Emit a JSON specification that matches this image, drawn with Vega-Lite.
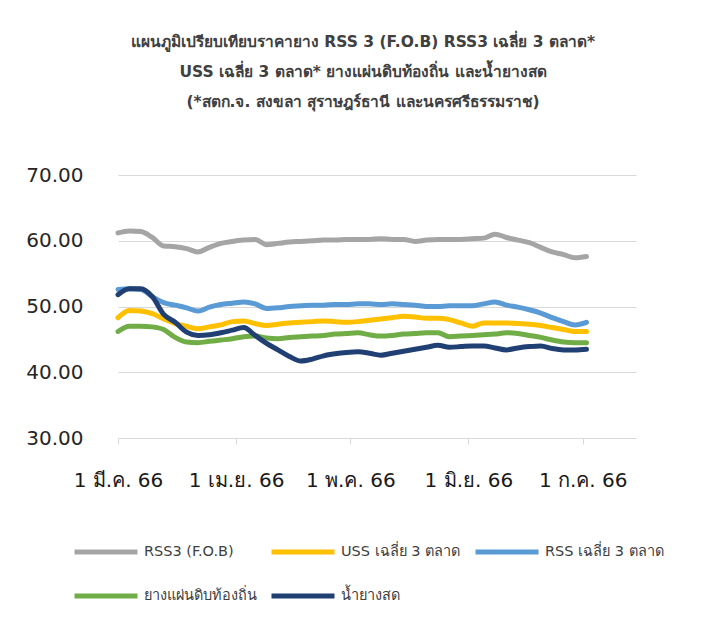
{
  "$schema": "https://vega.github.io/schema/vega-lite/v6.json",
  "autosize": {"type": "none"},
  "width": 518,
  "height": 263,
  "padding": {"left": 118, "top": 175, "right": 74, "bottom": 198},
  "background": "white",
  "title": {
    "text": ["แผนภูมิเปรียบเทียบราคายาง RSS 3 (F.O.B) RSS3 เฉลี่ย 3 ตลาด*", "USS เฉลี่ย 3 ตลาด* ยางแผ่นดิบท้องถิ่น และน้ำยางสด", "(*สตก.จ. สงขลา สุราษฎร์ธานี และนครศรีธรรมราช)"],
    "anchor": "middle",
    "frame": "group",
    "dx": -14,
    "offset": 55,
    "fontSize": 15.5,
    "fontWeight": "bold",
    "font": "DejaVu Sans",
    "color": "#404040",
    "lineHeight": 30
  },
  "config": {
    "view": {"stroke": null},
    "font": "DejaVu Sans"
  },
  "data": {
    "values": [
      {"d":"2023-03-01","s":"RSS3 (F.O.B)","v":61.2},{"d":"2023-03-04","s":"RSS3 (F.O.B)","v":61.5},{"d":"2023-03-07","s":"RSS3 (F.O.B)","v":61.4},{"d":"2023-03-10","s":"RSS3 (F.O.B)","v":60.5},{"d":"2023-03-13","s":"RSS3 (F.O.B)","v":59.2},{"d":"2023-03-16","s":"RSS3 (F.O.B)","v":59.1},{"d":"2023-03-19","s":"RSS3 (F.O.B)","v":58.8},{"d":"2023-03-22","s":"RSS3 (F.O.B)","v":58.3},{"d":"2023-03-25","s":"RSS3 (F.O.B)","v":59.0},{"d":"2023-03-28","s":"RSS3 (F.O.B)","v":59.6},{"d":"2023-03-31","s":"RSS3 (F.O.B)","v":59.9},{"d":"2023-04-03","s":"RSS3 (F.O.B)","v":60.1},{"d":"2023-04-06","s":"RSS3 (F.O.B)","v":60.2},{"d":"2023-04-09","s":"RSS3 (F.O.B)","v":59.4},{"d":"2023-04-12","s":"RSS3 (F.O.B)","v":59.6},{"d":"2023-04-15","s":"RSS3 (F.O.B)","v":59.8},{"d":"2023-04-18","s":"RSS3 (F.O.B)","v":59.9},{"d":"2023-04-21","s":"RSS3 (F.O.B)","v":60.0},{"d":"2023-04-24","s":"RSS3 (F.O.B)","v":60.1},{"d":"2023-04-27","s":"RSS3 (F.O.B)","v":60.1},{"d":"2023-04-30","s":"RSS3 (F.O.B)","v":60.2},{"d":"2023-05-03","s":"RSS3 (F.O.B)","v":60.2},{"d":"2023-05-06","s":"RSS3 (F.O.B)","v":60.2},{"d":"2023-05-09","s":"RSS3 (F.O.B)","v":60.3},{"d":"2023-05-12","s":"RSS3 (F.O.B)","v":60.2},{"d":"2023-05-15","s":"RSS3 (F.O.B)","v":60.2},{"d":"2023-05-18","s":"RSS3 (F.O.B)","v":59.9},{"d":"2023-05-21","s":"RSS3 (F.O.B)","v":60.1},{"d":"2023-05-24","s":"RSS3 (F.O.B)","v":60.2},{"d":"2023-05-27","s":"RSS3 (F.O.B)","v":60.2},{"d":"2023-05-30","s":"RSS3 (F.O.B)","v":60.2},{"d":"2023-06-02","s":"RSS3 (F.O.B)","v":60.3},{"d":"2023-06-05","s":"RSS3 (F.O.B)","v":60.4},{"d":"2023-06-08","s":"RSS3 (F.O.B)","v":61.0},{"d":"2023-06-11","s":"RSS3 (F.O.B)","v":60.5},{"d":"2023-06-14","s":"RSS3 (F.O.B)","v":60.1},{"d":"2023-06-17","s":"RSS3 (F.O.B)","v":59.7},{"d":"2023-06-20","s":"RSS3 (F.O.B)","v":59.0},{"d":"2023-06-23","s":"RSS3 (F.O.B)","v":58.3},{"d":"2023-06-26","s":"RSS3 (F.O.B)","v":57.9},{"d":"2023-06-29","s":"RSS3 (F.O.B)","v":57.4},{"d":"2023-07-02","s":"RSS3 (F.O.B)","v":57.6},
      {"d":"2023-03-01","s":"USS เฉลี่ย 3 ตลาด","v":48.3},{"d":"2023-03-04","s":"USS เฉลี่ย 3 ตลาด","v":49.4},{"d":"2023-03-07","s":"USS เฉลี่ย 3 ตลาด","v":49.3},{"d":"2023-03-10","s":"USS เฉลี่ย 3 ตลาด","v":48.9},{"d":"2023-03-13","s":"USS เฉลี่ย 3 ตลาด","v":48.1},{"d":"2023-03-16","s":"USS เฉลี่ย 3 ตลาด","v":47.4},{"d":"2023-03-19","s":"USS เฉลี่ย 3 ตลาด","v":47.0},{"d":"2023-03-22","s":"USS เฉลี่ย 3 ตลาด","v":46.6},{"d":"2023-03-25","s":"USS เฉลี่ย 3 ตลาด","v":46.9},{"d":"2023-03-28","s":"USS เฉลี่ย 3 ตลาด","v":47.2},{"d":"2023-03-31","s":"USS เฉลี่ย 3 ตลาด","v":47.7},{"d":"2023-04-03","s":"USS เฉลี่ย 3 ตลาด","v":47.8},{"d":"2023-04-06","s":"USS เฉลี่ย 3 ตลาด","v":47.4},{"d":"2023-04-09","s":"USS เฉลี่ย 3 ตลาด","v":47.1},{"d":"2023-04-12","s":"USS เฉลี่ย 3 ตลาด","v":47.3},{"d":"2023-04-15","s":"USS เฉลี่ย 3 ตลาด","v":47.5},{"d":"2023-04-18","s":"USS เฉลี่ย 3 ตลาด","v":47.6},{"d":"2023-04-21","s":"USS เฉลี่ย 3 ตลาด","v":47.7},{"d":"2023-04-24","s":"USS เฉลี่ย 3 ตลาด","v":47.8},{"d":"2023-04-27","s":"USS เฉลี่ย 3 ตลาด","v":47.7},{"d":"2023-04-30","s":"USS เฉลี่ย 3 ตลาด","v":47.6},{"d":"2023-05-03","s":"USS เฉลี่ย 3 ตลาด","v":47.7},{"d":"2023-05-06","s":"USS เฉลี่ย 3 ตลาด","v":47.9},{"d":"2023-05-09","s":"USS เฉลี่ย 3 ตลาด","v":48.1},{"d":"2023-05-12","s":"USS เฉลี่ย 3 ตลาด","v":48.3},{"d":"2023-05-15","s":"USS เฉลี่ย 3 ตลาด","v":48.5},{"d":"2023-05-18","s":"USS เฉลี่ย 3 ตลาด","v":48.4},{"d":"2023-05-21","s":"USS เฉลี่ย 3 ตลาด","v":48.2},{"d":"2023-05-24","s":"USS เฉลี่ย 3 ตลาด","v":48.2},{"d":"2023-05-27","s":"USS เฉลี่ย 3 ตลาด","v":48.0},{"d":"2023-05-30","s":"USS เฉลี่ย 3 ตลาด","v":47.5},{"d":"2023-06-02","s":"USS เฉลี่ย 3 ตลาด","v":47.0},{"d":"2023-06-05","s":"USS เฉลี่ย 3 ตลาด","v":47.5},{"d":"2023-06-08","s":"USS เฉลี่ย 3 ตลาด","v":47.5},{"d":"2023-06-11","s":"USS เฉลี่ย 3 ตลาด","v":47.5},{"d":"2023-06-14","s":"USS เฉลี่ย 3 ตลาด","v":47.4},{"d":"2023-06-17","s":"USS เฉลี่ย 3 ตลาด","v":47.3},{"d":"2023-06-20","s":"USS เฉลี่ย 3 ตลาด","v":47.1},{"d":"2023-06-23","s":"USS เฉลี่ย 3 ตลาด","v":46.8},{"d":"2023-06-26","s":"USS เฉลี่ย 3 ตลาด","v":46.5},{"d":"2023-06-29","s":"USS เฉลี่ย 3 ตลาด","v":46.2},{"d":"2023-07-02","s":"USS เฉลี่ย 3 ตลาด","v":46.2},
      {"d":"2023-03-01","s":"RSS เฉลี่ย 3 ตลาด","v":52.6},{"d":"2023-03-04","s":"RSS เฉลี่ย 3 ตลาด","v":52.7},{"d":"2023-03-07","s":"RSS เฉลี่ย 3 ตลาด","v":52.6},{"d":"2023-03-10","s":"RSS เฉลี่ย 3 ตลาด","v":51.5},{"d":"2023-03-13","s":"RSS เฉลี่ย 3 ตลาด","v":50.6},{"d":"2023-03-16","s":"RSS เฉลี่ย 3 ตลาด","v":50.2},{"d":"2023-03-19","s":"RSS เฉลี่ย 3 ตลาด","v":49.8},{"d":"2023-03-22","s":"RSS เฉลี่ย 3 ตลาด","v":49.3},{"d":"2023-03-25","s":"RSS เฉลี่ย 3 ตลาด","v":49.9},{"d":"2023-03-28","s":"RSS เฉลี่ย 3 ตลาด","v":50.3},{"d":"2023-03-31","s":"RSS เฉลี่ย 3 ตลาด","v":50.5},{"d":"2023-04-03","s":"RSS เฉลี่ย 3 ตลาด","v":50.7},{"d":"2023-04-06","s":"RSS เฉลี่ย 3 ตลาด","v":50.4},{"d":"2023-04-09","s":"RSS เฉลี่ย 3 ตลาด","v":49.7},{"d":"2023-04-12","s":"RSS เฉลี่ย 3 ตลาด","v":49.8},{"d":"2023-04-15","s":"RSS เฉลี่ย 3 ตลาด","v":50.0},{"d":"2023-04-18","s":"RSS เฉลี่ย 3 ตลาด","v":50.1},{"d":"2023-04-21","s":"RSS เฉลี่ย 3 ตลาด","v":50.2},{"d":"2023-04-24","s":"RSS เฉลี่ย 3 ตลาด","v":50.2},{"d":"2023-04-27","s":"RSS เฉลี่ย 3 ตลาด","v":50.3},{"d":"2023-04-30","s":"RSS เฉลี่ย 3 ตลาด","v":50.3},{"d":"2023-05-03","s":"RSS เฉลี่ย 3 ตลาด","v":50.4},{"d":"2023-05-06","s":"RSS เฉลี่ย 3 ตลาด","v":50.4},{"d":"2023-05-09","s":"RSS เฉลี่ย 3 ตลาด","v":50.3},{"d":"2023-05-12","s":"RSS เฉลี่ย 3 ตลาด","v":50.4},{"d":"2023-05-15","s":"RSS เฉลี่ย 3 ตลาด","v":50.3},{"d":"2023-05-18","s":"RSS เฉลี่ย 3 ตลาด","v":50.2},{"d":"2023-05-21","s":"RSS เฉลี่ย 3 ตลาด","v":50.0},{"d":"2023-05-24","s":"RSS เฉลี่ย 3 ตลาด","v":50.0},{"d":"2023-05-27","s":"RSS เฉลี่ย 3 ตลาด","v":50.1},{"d":"2023-05-30","s":"RSS เฉลี่ย 3 ตลาด","v":50.1},{"d":"2023-06-02","s":"RSS เฉลี่ย 3 ตลาด","v":50.1},{"d":"2023-06-05","s":"RSS เฉลี่ย 3 ตลาด","v":50.4},{"d":"2023-06-08","s":"RSS เฉลี่ย 3 ตลาด","v":50.7},{"d":"2023-06-11","s":"RSS เฉลี่ย 3 ตลาด","v":50.2},{"d":"2023-06-14","s":"RSS เฉลี่ย 3 ตลาด","v":49.9},{"d":"2023-06-17","s":"RSS เฉลี่ย 3 ตลาด","v":49.5},{"d":"2023-06-20","s":"RSS เฉลี่ย 3 ตลาด","v":49.0},{"d":"2023-06-23","s":"RSS เฉลี่ย 3 ตลาด","v":48.3},{"d":"2023-06-26","s":"RSS เฉลี่ย 3 ตลาด","v":47.7},{"d":"2023-06-29","s":"RSS เฉลี่ย 3 ตลาด","v":47.2},{"d":"2023-07-02","s":"RSS เฉลี่ย 3 ตลาด","v":47.6},
      {"d":"2023-03-01","s":"ยางแผ่นดิบท้องถิ่น","v":46.2},{"d":"2023-03-04","s":"ยางแผ่นดิบท้องถิ่น","v":47.0},{"d":"2023-03-07","s":"ยางแผ่นดิบท้องถิ่น","v":47.0},{"d":"2023-03-10","s":"ยางแผ่นดิบท้องถิ่น","v":46.9},{"d":"2023-03-13","s":"ยางแผ่นดิบท้องถิ่น","v":46.5},{"d":"2023-03-16","s":"ยางแผ่นดิบท้องถิ่น","v":45.3},{"d":"2023-03-19","s":"ยางแผ่นดิบท้องถิ่น","v":44.6},{"d":"2023-03-22","s":"ยางแผ่นดิบท้องถิ่น","v":44.5},{"d":"2023-03-25","s":"ยางแผ่นดิบท้องถิ่น","v":44.7},{"d":"2023-03-28","s":"ยางแผ่นดิบท้องถิ่น","v":44.9},{"d":"2023-03-31","s":"ยางแผ่นดิบท้องถิ่น","v":45.1},{"d":"2023-04-03","s":"ยางแผ่นดิบท้องถิ่น","v":45.4},{"d":"2023-04-06","s":"ยางแผ่นดิบท้องถิ่น","v":45.5},{"d":"2023-04-09","s":"ยางแผ่นดิบท้องถิ่น","v":45.2},{"d":"2023-04-12","s":"ยางแผ่นดิบท้องถิ่น","v":45.1},{"d":"2023-04-15","s":"ยางแผ่นดิบท้องถิ่น","v":45.3},{"d":"2023-04-18","s":"ยางแผ่นดิบท้องถิ่น","v":45.4},{"d":"2023-04-21","s":"ยางแผ่นดิบท้องถิ่น","v":45.5},{"d":"2023-04-24","s":"ยางแผ่นดิบท้องถิ่น","v":45.6},{"d":"2023-04-27","s":"ยางแผ่นดิบท้องถิ่น","v":45.8},{"d":"2023-04-30","s":"ยางแผ่นดิบท้องถิ่น","v":45.9},{"d":"2023-05-03","s":"ยางแผ่นดิบท้องถิ่น","v":46.0},{"d":"2023-05-06","s":"ยางแผ่นดิบท้องถิ่น","v":45.7},{"d":"2023-05-09","s":"ยางแผ่นดิบท้องถิ่น","v":45.5},{"d":"2023-05-12","s":"ยางแผ่นดิบท้องถิ่น","v":45.6},{"d":"2023-05-15","s":"ยางแผ่นดิบท้องถิ่น","v":45.8},{"d":"2023-05-18","s":"ยางแผ่นดิบท้องถิ่น","v":45.9},{"d":"2023-05-21","s":"ยางแผ่นดิบท้องถิ่น","v":46.0},{"d":"2023-05-24","s":"ยางแผ่นดิบท้องถิ่น","v":46.0},{"d":"2023-05-27","s":"ยางแผ่นดิบท้องถิ่น","v":45.4},{"d":"2023-05-30","s":"ยางแผ่นดิบท้องถิ่น","v":45.5},{"d":"2023-06-02","s":"ยางแผ่นดิบท้องถิ่น","v":45.6},{"d":"2023-06-05","s":"ยางแผ่นดิบท้องถิ่น","v":45.7},{"d":"2023-06-08","s":"ยางแผ่นดิบท้องถิ่น","v":45.8},{"d":"2023-06-11","s":"ยางแผ่นดิบท้องถิ่น","v":46.0},{"d":"2023-06-14","s":"ยางแผ่นดิบท้องถิ่น","v":45.9},{"d":"2023-06-17","s":"ยางแผ่นดิบท้องถิ่น","v":45.6},{"d":"2023-06-20","s":"ยางแผ่นดิบท้องถิ่น","v":45.3},{"d":"2023-06-23","s":"ยางแผ่นดิบท้องถิ่น","v":44.9},{"d":"2023-06-26","s":"ยางแผ่นดิบท้องถิ่น","v":44.6},{"d":"2023-06-29","s":"ยางแผ่นดิบท้องถิ่น","v":44.5},{"d":"2023-07-02","s":"ยางแผ่นดิบท้องถิ่น","v":44.5},
      {"d":"2023-03-01","s":"น้ำยางสด","v":51.8},{"d":"2023-03-04","s":"น้ำยางสด","v":52.7},{"d":"2023-03-07","s":"น้ำยางสด","v":52.7},{"d":"2023-03-10","s":"น้ำยางสด","v":51.5},{"d":"2023-03-13","s":"น้ำยางสด","v":48.8},{"d":"2023-03-16","s":"น้ำยางสด","v":47.6},{"d":"2023-03-19","s":"น้ำยางสด","v":46.1},{"d":"2023-03-22","s":"น้ำยางสด","v":45.6},{"d":"2023-03-25","s":"น้ำยางสด","v":45.7},{"d":"2023-03-28","s":"น้ำยางสด","v":46.0},{"d":"2023-03-31","s":"น้ำยางสด","v":46.4},{"d":"2023-04-03","s":"น้ำยางสด","v":46.8},{"d":"2023-04-06","s":"น้ำยางสด","v":45.6},{"d":"2023-04-09","s":"น้ำยางสด","v":44.4},{"d":"2023-04-12","s":"น้ำยางสด","v":43.4},{"d":"2023-04-15","s":"น้ำยางสด","v":42.4},{"d":"2023-04-18","s":"น้ำยางสด","v":41.7},{"d":"2023-04-21","s":"น้ำยางสด","v":42.0},{"d":"2023-04-24","s":"น้ำยางสด","v":42.5},{"d":"2023-04-27","s":"น้ำยางสด","v":42.8},{"d":"2023-04-30","s":"น้ำยางสด","v":43.0},{"d":"2023-05-03","s":"น้ำยางสด","v":43.1},{"d":"2023-05-06","s":"น้ำยางสด","v":42.9},{"d":"2023-05-09","s":"น้ำยางสด","v":42.6},{"d":"2023-05-12","s":"น้ำยางสด","v":42.9},{"d":"2023-05-15","s":"น้ำยางสด","v":43.2},{"d":"2023-05-18","s":"น้ำยางสด","v":43.5},{"d":"2023-05-21","s":"น้ำยางสด","v":43.8},{"d":"2023-05-24","s":"น้ำยางสด","v":44.1},{"d":"2023-05-27","s":"น้ำยางสด","v":43.8},{"d":"2023-05-30","s":"น้ำยางสด","v":43.9},{"d":"2023-06-02","s":"น้ำยางสด","v":44.0},{"d":"2023-06-05","s":"น้ำยางสด","v":44.0},{"d":"2023-06-08","s":"น้ำยางสด","v":43.7},{"d":"2023-06-11","s":"น้ำยางสด","v":43.4},{"d":"2023-06-14","s":"น้ำยางสด","v":43.7},{"d":"2023-06-17","s":"น้ำยางสด","v":43.9},{"d":"2023-06-20","s":"น้ำยางสด","v":44.0},{"d":"2023-06-23","s":"น้ำยางสด","v":43.6},{"d":"2023-06-26","s":"น้ำยางสด","v":43.4},{"d":"2023-06-29","s":"น้ำยางสด","v":43.4},{"d":"2023-07-02","s":"น้ำยางสด","v":43.5}
    ]
  },
  "mark": {"type": "line", "strokeWidth": 5, "strokeCap": "round", "strokeJoin": "round", "interpolate": "monotone"},
  "encoding": {
    "x": {
      "field": "d", "type": "temporal",
      "scale": {"domain": ["2023-03-01T00:00:00", "2023-07-15T00:00:00"]},
      "axis": {
        "title": null,
        "values": ["2023-03-01T00:00:00", "2023-04-01T00:00:00", "2023-05-01T00:00:00", "2023-06-01T00:00:00", "2023-07-01T00:00:00"],
        "labelExpr": "'1 ' + ['ม.ค.','ก.พ.','มี.ค.','เม.ย.','พ.ค.','มิ.ย.','ก.ค.'][month(datum.value)] + ' 66'",
        "labelOverlap": false,
        "labelBound": false,
        "labelFlush": false,
        "grid": false,
        "domainColor": "#d9d9d9",
        "tickColor": "#d9d9d9",
        "tickSize": 6,
        "labelFontSize": 20,
        "labelColor": "#1a1a1a",
        "labelPadding": 26,
        "labelFont": "DejaVu Sans"
      }
    },
    "y": {
      "field": "v", "type": "quantitative",
      "scale": {"domain": [30, 70], "nice": false, "zero": false},
      "axis": {
        "title": null,
        "values": [30, 40, 50, 60, 70],
        "format": ".2f",
        "domain": false,
        "ticks": false,
        "gridColor": "#d9d9d9",
        "labelFontSize": 20,
        "labelColor": "#262626",
        "labelPadding": 35,
        "labelFont": "DejaVu Sans"
      }
    },
    "color": {
      "field": "s", "type": "nominal",
      "sort": null,
      "scale": {
        "domain": ["RSS3 (F.O.B)", "USS เฉลี่ย 3 ตลาด", "RSS เฉลี่ย 3 ตลาด", "ยางแผ่นดิบท้องถิ่น", "น้ำยางสด"],
        "range": ["#A5A5A5", "#FFC000", "#5B9BD5", "#70AD47", "#203F73"]
      },
      "legend": {
        "title": null,
        "orient": "none",
        "legendX": -46,
        "legendY": 343,
        "direction": "horizontal",
        "columns": 3,
        "symbolType": "stroke",
        "symbolSize": 3969,
        "symbolStrokeWidth": 5,
        "labelFontSize": 14.5,
        "labelColor": "#404040",
        "labelFont": "DejaVu Sans",
        "columnPadding": 4,
        "rowPadding": -15,
        "labelLimit": 300
      }
    }
  }
}
